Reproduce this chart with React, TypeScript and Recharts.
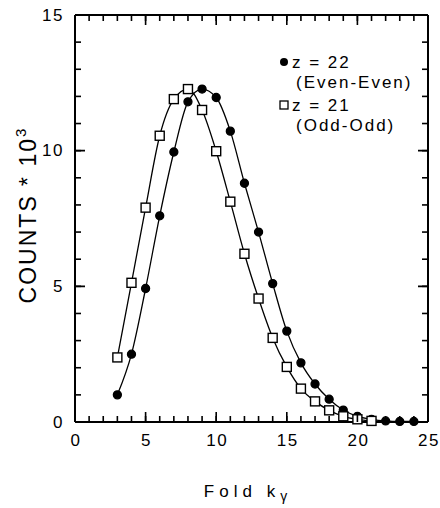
import { LineChart, Line, XAxis, YAxis } from "recharts";

// z = 22 (Even-Even), filled circles
const evenX = [3, 4, 5, 6, 7, 8, 9, 10, 11, 12, 13, 14, 15, 16, 17, 18, 19, 20, 21, 22, 23, 24];
const evenY = [1.0, 2.5, 4.92, 7.6, 9.95, 11.8, 12.27, 11.96, 10.72, 8.8, 7.0, 5.1, 3.35, 2.18, 1.4, 0.84, 0.44, 0.21, 0.1, 0.04, 0.02, 0.02];

// z = 21 (Odd-Odd), open squares
const oddX = [3, 4, 5, 6, 7, 8, 9, 10, 11, 12, 13, 14, 15, 16, 17, 18, 19, 20, 21];
const oddY = [2.38, 5.13, 7.9, 10.55, 11.9, 12.27, 11.5, 9.98, 8.12, 6.2, 4.55, 3.1, 2.03, 1.23, 0.76, 0.43, 0.21, 0.1, 0.04];

const xTicks = Array.from({ length: 26 }, (_, i) => i);
const yTicks = Array.from({ length: 16 }, (_, i) => i);

const evenData = evenX.map((x, i) => ({ x, y: evenY[i] }));
const oddData = oddX.map((x, i) => ({ x, y: oddY[i] }));

const FONT = "'Liberation Sans', Arial, sans-serif";
// plot frame edges (px)
const LEFT = 75;
const RIGHT = 428;
const TOP = 15;
const BOTTOM = 422;
const TICK = -6; // negative = ticks point into the plot
const frame = { stroke: "#000", strokeWidth: 2 };
const tickLine = { stroke: "#000", strokeWidth: 1.6 };

const LeftTick = (p: any) => {
  const v = p.payload.value;
  if (v % 5 !== 0) return <g />;
  const y = Number(p.y);
  return (
    <g>
      <path d={`M${LEFT},${y}H${LEFT + 10}M${RIGHT},${y}H${RIGHT - 10}`} stroke="#000" strokeWidth={1.6} fill="none" />
      <text x={LEFT - 11} y={y} textAnchor="end" dominantBaseline="central" fontSize={17} letterSpacing={1.5} fontFamily={FONT} fill="#000">
        {v}
      </text>
    </g>
  );
};

const BottomTick = (p: any) => {
  const v = p.payload.value;
  if (v % 5 !== 0) return <g />;
  const x = Number(p.x);
  return (
    <g>
      <path d={`M${x},${BOTTOM}V${BOTTOM - 10}M${x},${TOP}V${TOP + 10}`} stroke="#000" strokeWidth={1.6} fill="none" />
      <text x={x + 1} y={BOTTOM + 18} textAnchor="middle" dominantBaseline="central" fontSize={17} letterSpacing={1.5} fontFamily={FONT} fill="#000">
        {v}
      </text>
    </g>
  );
};

const NoTick = () => <g />;

// axis titles + legend, drawn inside the svg
const Titles = () => (
  <g fontFamily={FONT} fill="#000">
    <text x={36} y={215} transform="rotate(-90 36 215)" textAnchor="middle" fontSize={23} letterSpacing={2}>
      COUNTS * 10<tspan dy={-10} fontSize={15}>3</tspan>
    </text>
    <text x={248} y={497} textAnchor="middle" fontSize={17} letterSpacing={5}>
      Fold k<tspan dy={4} fontSize={14}>γ</tspan>
    </text>
    <circle cx={284} cy={62} r={4} fill="#000" />
    <text x={292} y={62} dominantBaseline="central" fontSize={17} letterSpacing={2}>z = 22</text>
    <text x={296} y={82} dominantBaseline="central" fontSize={17} letterSpacing={2}>(Even-Even)</text>
    <rect x={280} y={101} width={8} height={8} fill="#fff" stroke="#000" strokeWidth={1.3} />
    <text x={292} y={105} dominantBaseline="central" fontSize={17} letterSpacing={2}>z = 21</text>
    <text x={296} y={125} dominantBaseline="central" fontSize={17} letterSpacing={2}>(Odd-Odd)</text>
  </g>
);

const Square = (p: any) => (
  <rect key={`sq-${p.index}`} x={p.cx - 4.5} y={p.cy - 4.5} width={9} height={9} fill="#fff" stroke="#000" strokeWidth={1.4} />
);

export default function App() {
  return (
    <div style={{ position: "absolute", left: 0, top: 0, width: 440, height: 508 }}>
      <LineChart width={440} height={508} margin={{ top: 0, right: 0, bottom: 0, left: 0 }}>
        <XAxis
          dataKey="x"
          type="number"
          domain={[0, 25]}
          ticks={xTicks}
          interval={0}
          height={508 - BOTTOM}
          tickSize={TICK}
          tickLine={tickLine}
          tick={BottomTick}
          axisLine={frame}
        />
        <XAxis
          xAxisId="top"
          orientation="top"
          dataKey="x"
          type="number"
          domain={[0, 25]}
          ticks={xTicks}
          interval={0}
          height={TOP}
          tickSize={TICK}
          tickLine={tickLine}
          tick={NoTick}
          axisLine={frame}
        />
        <YAxis
          type="number"
          domain={[0, 15]}
          ticks={yTicks}
          interval={0}
          width={LEFT}
          tickSize={TICK}
          tickLine={tickLine}
          tick={LeftTick}
          axisLine={frame}
          label={<Titles />}
        />
        <YAxis
          yAxisId="r"
          orientation="right"
          type="number"
          domain={[0, 15]}
          ticks={yTicks}
          interval={0}
          width={440 - RIGHT}
          tickSize={TICK}
          tickLine={tickLine}
          tick={NoTick}
          axisLine={frame}
        />
        <Line
          data={evenData}
          dataKey="y"
          type="monotone"
          stroke="#000"
          strokeWidth={1.3}
          dot={{ r: 4, fill: "#000" }}
          isAnimationActive={false}
        />
        <Line
          data={oddData}
          xAxisId="top"
          yAxisId="r"
          dataKey="y"
          type="monotone"
          stroke="#000"
          strokeWidth={1.3}
          dot={Square}
          isAnimationActive={false}
        />
      </LineChart>
    </div>
  );
}
